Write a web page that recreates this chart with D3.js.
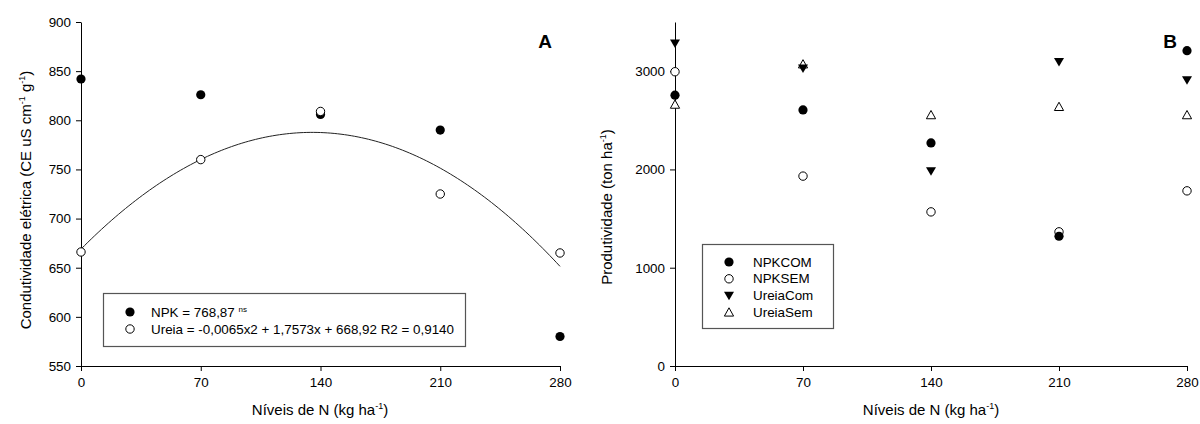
<!DOCTYPE html>
<html><head><meta charset="utf-8">
<script src="https://cdn.jsdelivr.net/npm/d3@7"></script>
<style>
body{margin:0;background:#fff;}
svg{display:block;font-family:"Liberation Sans",Arial,sans-serif;}
</style></head>
<body>
<svg id="c" width="1200" height="424"></svg>
<script>
// ---- data ----
const levels = [0, 70, 140, 210, 280];
const xTicks = [0, 70, 140, 210, 280];
// Panel A: condutividade elétrica
const npkA   = [842, 826, 806, 790, 580];
const ureiaA = [666, 760, 809, 725, 665];
const ureiaFitCoef = [-0.0065, 1.7573, 668.92]; // a x^2 + b x + c (from legend)
const yTicksA = [550, 600, 650, 700, 750, 800, 850, 900];
// Panel B: produtividade
const npkCom   = [2755, 2605, 2270, 1320, 3208];
const npkSem   = [2994, 1932, 1568, 1365, 1782];
const ureiaCom = [3283, 3030, 1983, 3096, 2909];
const ureiaSem = [2660, 3070, 2553, 2637, 2553];
const yTicksB = [0, 1000, 2000, 3000];
const legendB = ["NPKCOM", "NPKSEM", "UreiaCom", "UreiaSem"];

const svg = d3.select("#c");
const font = 13.4;

function sym(g, type, x, y) {
  const r = 4.6;
  if (type === "fc") g.append("circle").attr("cx", x).attr("cy", y).attr("r", r).attr("fill", "#000");
  else if (type === "oc") g.append("circle").attr("cx", x).attr("cy", y).attr("r", r - 0.4).attr("fill", "#fff").attr("stroke", "#000").attr("stroke-width", 1);
  else if (type === "dt") {
    const s = 5;
    g.append("path").attr("d", `M${x - s},${y - s * 0.75}L${x + s},${y - s * 0.75}L${x},${y + s * 0.95}Z`).attr("fill", "#000");
  } else if (type === "ut") {
    const s = 4.6;
    g.append("path").attr("d", `M${x},${y - s}L${x + s},${y + s * 0.8}L${x - s},${y + s * 0.8}Z`).attr("fill", "#fff").attr("stroke", "#000").attr("stroke-width", 1);
  }
}

function axisStyle(g) {
  g.selectAll("path.domain").attr("stroke", "#000").attr("stroke-width", 1);
  g.selectAll(".tick line").attr("stroke", "#000");
  g.selectAll(".tick text").attr("font-size", font).attr("font-family", "'Liberation Sans',Arial,sans-serif").attr("fill", "#000");
}
const fmt = d3.format("d");

// ---------- Panel A ----------
const xA = d3.scaleLinear().domain([0, 280]).range([81, 560]);
const yA = d3.scaleLinear().domain([550, 900]).range([366, 22]);

const gAx = svg.append("g").attr("transform", "translate(0,366)")
  .call(d3.axisBottom(xA).tickValues(xTicks).tickFormat(fmt).tickSize(5).tickPadding(6).tickSizeOuter(0));
axisStyle(gAx);
const gAy = svg.append("g").attr("transform", "translate(81,0)")
  .call(d3.axisLeft(yA).tickValues(yTicksA).tickFormat(fmt).tickSize(5).tickPadding(5).tickSizeOuter(0));
axisStyle(gAy);

// fit curve
const fit = x => ureiaFitCoef[0] * x * x + ureiaFitCoef[1] * x + ureiaFitCoef[2];
const curveX = d3.range(0, 280.01, 2);
svg.append("path")
  .attr("d", d3.line().x(d => xA(d)).y(d => yA(fit(d)))(curveX))
  .attr("fill", "none").attr("stroke", "#222").attr("stroke-width", 1);

const gA = svg.append("g");
levels.forEach((l, i) => sym(gA, "fc", xA(l), yA(npkA[i])));
levels.forEach((l, i) => sym(gA, "oc", xA(l), yA(ureiaA[i])));

svg.append("text").attr("x", 545).attr("y", 48).attr("text-anchor", "middle")
  .attr("font-size", 19).attr("font-weight", "bold").text("A");

// legend A
svg.append("rect").attr("x", 103.5).attr("y", 293.5).attr("width", 362).attr("height", 53)
  .attr("fill", "#fff").attr("stroke", "#555").attr("stroke-width", 1.2);
sym(svg, "fc", 130, 312);
sym(svg, "oc", 130, 329);
const tA1 = svg.append("text").attr("x", 151).attr("y", 316.5).attr("font-size", font);
tA1.append("tspan").text("NPK = 768,87 ");
tA1.append("tspan").attr("font-size", 8).attr("dy", -5).text("ns");
svg.append("text").attr("x", 151).attr("y", 333.5).attr("font-size", font)
  .text("Ureia = -0,0065x2 + 1,7573x + 668,92 R2 = 0,9140");

// axis titles A
const ylA = svg.append("text").attr("transform", "translate(31,200) rotate(-90)")
  .attr("text-anchor", "middle").attr("font-size", 15);
ylA.append("tspan").text("Condutividade elétrica (CE uS cm");
ylA.append("tspan").attr("font-size", 9).attr("dy", -6).text("-1");
ylA.append("tspan").attr("dy", 6).text(" g");
ylA.append("tspan").attr("font-size", 9).attr("dy", -6).text("-1");
ylA.append("tspan").attr("dy", 6).text(")");

function xTitle(cx) {
  const t = svg.append("text").attr("x", cx).attr("y", 415).attr("text-anchor", "middle").attr("font-size", 15);
  t.append("tspan").text("Níveis de N (kg ha");
  t.append("tspan").attr("font-size", 9).attr("dy", -6).text("-1");
  t.append("tspan").attr("dy", 6).text(")");
}
xTitle(320);

// ---------- Panel B ----------
const xB = d3.scaleLinear().domain([0, 280]).range([675, 1187]);
const yB = d3.scaleLinear().domain([0, 3500]).range([366, 22]);

const gBx = svg.append("g").attr("transform", "translate(0,366)")
  .call(d3.axisBottom(xB).tickValues(xTicks).tickFormat(fmt).tickSize(5).tickPadding(6).tickSizeOuter(0));
axisStyle(gBx);
const gBy = svg.append("g").attr("transform", "translate(675,0)")
  .call(d3.axisLeft(yB).tickValues(yTicksB).tickFormat(fmt).tickSize(5).tickPadding(5).tickSizeOuter(0));
axisStyle(gBy);

const gB = svg.append("g");
levels.forEach((l, i) => sym(gB, "oc", xB(l), yB(npkSem[i])));
levels.forEach((l, i) => sym(gB, "fc", xB(l), yB(npkCom[i])));
levels.forEach((l, i) => sym(gB, "ut", xB(l), yB(ureiaSem[i])));
levels.forEach((l, i) => sym(gB, "dt", xB(l), yB(ureiaCom[i])));

svg.append("text").attr("x", 1170).attr("y", 48).attr("text-anchor", "middle")
  .attr("font-size", 19).attr("font-weight", "bold").text("B");

// legend B
svg.append("rect").attr("x", 702.5).attr("y", 244.5).attr("width", 131).attr("height", 84)
  .attr("fill", "#fff").attr("stroke", "#555").attr("stroke-width", 1.2);
const symTypes = ["fc", "oc", "dt", "ut"];
legendB.forEach((name, i) => {
  const y = 262 + i * 16.8;
  sym(svg, symTypes[i], 729, y);
  svg.append("text").attr("x", 753).attr("y", y + 4.5).attr("font-size", font).text(name);
});

const ylB = svg.append("text").attr("transform", "translate(612,207) rotate(-90)")
  .attr("text-anchor", "middle").attr("font-size", 15);
ylB.append("tspan").text("Produtividade (ton ha");
ylB.append("tspan").attr("font-size", 9).attr("dy", -6).text("-1");
ylB.append("tspan").attr("dy", 6).text(")");
xTitle(931);
</script>
</body></html>
